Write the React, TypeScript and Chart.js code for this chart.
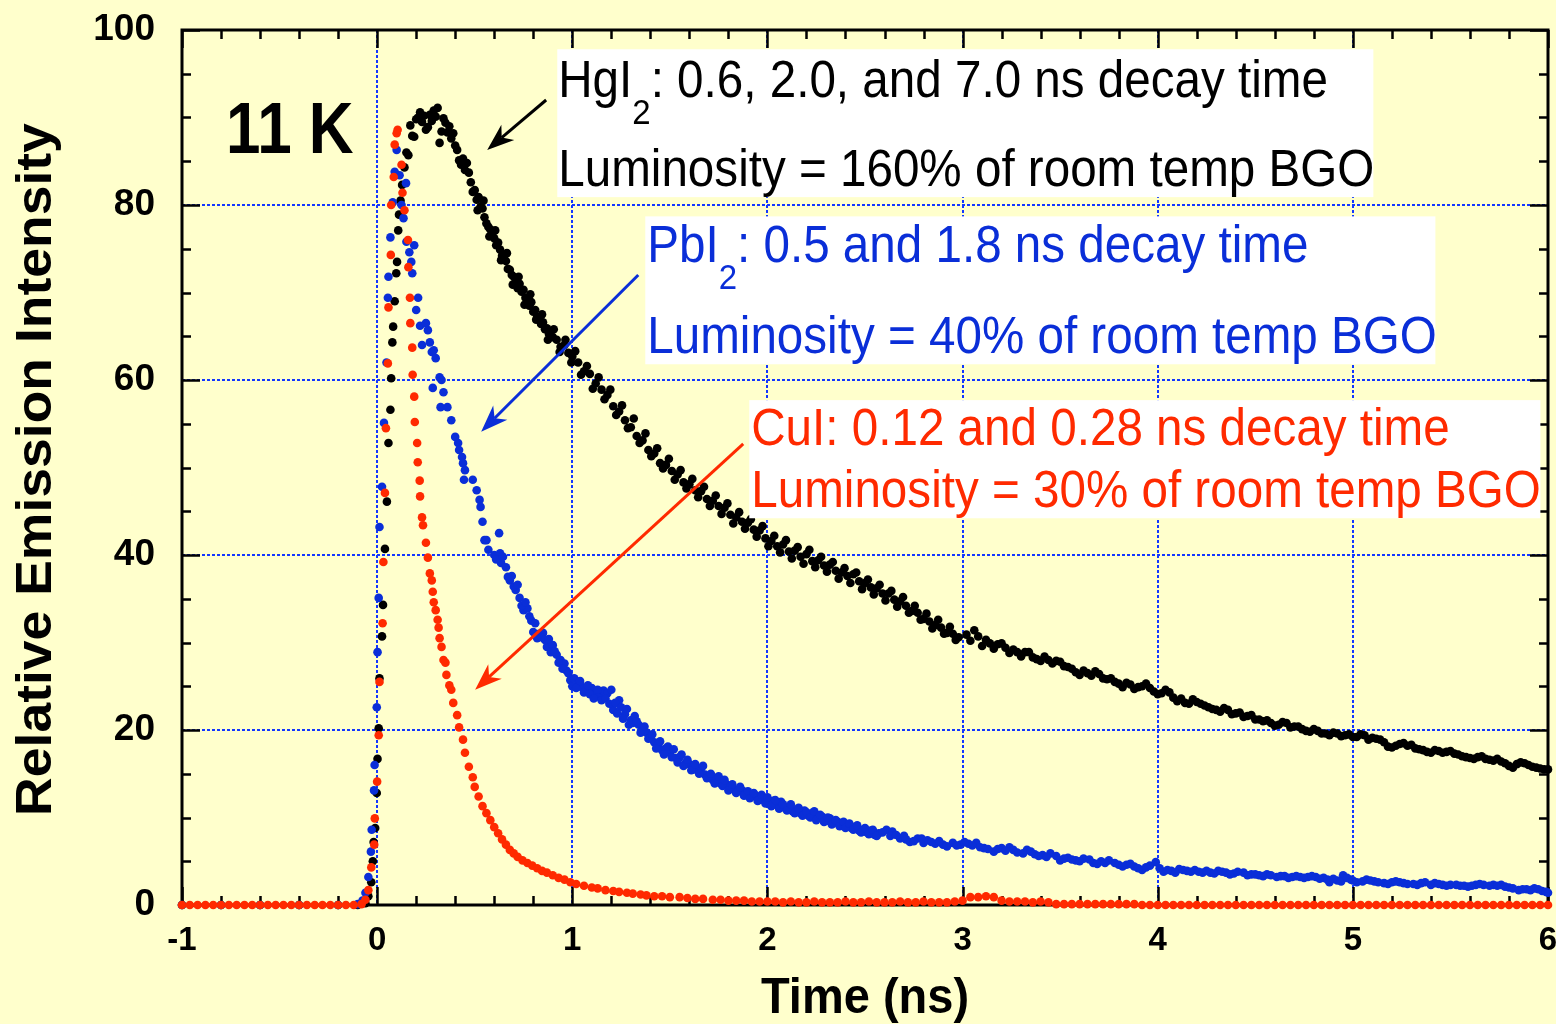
import React, { useEffect, useRef } from 'react';
import { Chart, registerables } from 'chart.js';

Chart.register(...registerables);

const FONT = '"Liberation Sans", Arial, Helvetica, sans-serif';
const BG = '#ffffcc';
const BLACK = '#000000';
const BLUE = '#0a2ed8';
const RED = '#ff2a00';
const GRID_BLUE = '#1236ff';

const xTicks = [-1, 0, 1, 2, 3, 4, 5, 6];
const yTicks = [0, 20, 40, 60, 80, 100];

type P = [number, number];

// CuI (red) : [time ns, relative intensity]
const cuiData: P[] = [
  [-1.0, 0], [-0.96, 0], [-0.92, 0], [-0.88, 0], [-0.84, 0], [-0.8, 0], [-0.76, 0], [-0.72, 0], [-0.68, 0], [-0.64, 0],
  [-0.6, 0], [-0.56, 0], [-0.52, 0], [-0.48, 0], [-0.44, 0], [-0.4, 0], [-0.36, 0], [-0.32, 0], [-0.28, 0], [-0.24, 0],
  [-0.2, 0], [-0.16, 0], [-0.12, 0], [-0.08, 0.1],
  [-0.06, 0.6], [-0.045, 1.7], [-0.03, 4.3], [-0.015, 6.9], [-0.012, 9.9], [0.0, 14.1], [0.008, 19.4], [0.012, 25.5],
  [0.028, 32.2], [0.032, 39.2], [0.04, 47.1], [0.045, 54.5], [0.055, 61.9], [0.058, 68.3], [0.07, 74.3], [0.072, 80.0],
  [0.085, 83.2], [0.09, 86.9], [0.1, 88.2], [0.105, 88.6],
  [0.125, 84.6], [0.13, 81.4], [0.14, 79.4], [0.158, 76.0], [0.16, 72.9], [0.168, 69.4], [0.17, 66.5], [0.18, 63.7],
  [0.182, 60.6], [0.19, 58.1], [0.193, 55.2], [0.205, 52.8], [0.208, 50.6], [0.218, 48.5], [0.22, 46.7], [0.23, 44.3],
  [0.235, 43.4], [0.25, 41.4], [0.26, 39.7], [0.27, 37.9], [0.28, 37.1], [0.285, 35.8], [0.29, 34.6], [0.3, 33.7],
  [0.31, 32.6], [0.315, 31.7], [0.32, 30.5], [0.33, 29.5], [0.34, 28.0], [0.35, 27.7], [0.355, 26.3], [0.37, 25.1],
  [0.38, 24.6], [0.39, 23.1], [0.41, 21.7], [0.42, 20.3], [0.44, 18.9], [0.45, 17.4], [0.47, 15.8], [0.49, 14.6],
  [0.5, 13.5], [0.52, 12.4], [0.54, 11.3], [0.56, 10.5], [0.58, 9.7], [0.6, 8.9], [0.62, 8.2], [0.64, 7.5],
  [0.66, 6.9], [0.68, 6.3], [0.7, 5.9], [0.72, 5.5], [0.745, 5.1], [0.77, 4.8], [0.795, 4.5], [0.82, 4.2],
  [0.845, 3.9], [0.87, 3.7], [0.9, 3.4], [0.93, 3.1], [0.96, 2.9], [0.99, 2.6], [1.02, 2.4], [1.06, 2.2],
  [1.1, 2.0], [1.13, 1.9], [1.17, 1.7], [1.21, 1.6], [1.24, 1.5], [1.28, 1.4], [1.31, 1.3], [1.35, 1.2],
  [1.38, 1.1], [1.42, 1.0], [1.46, 1.0], [1.5, 0.9], [1.55, 0.9], [1.59, 0.8], [1.63, 0.7], [1.67, 0.7],
  [1.72, 0.6], [1.76, 0.6], [1.8, 0.5], [1.84, 0.5], [1.88, 0.5], [1.92, 0.4], [1.96, 0.4], [2.0, 0.4],
  [2.04, 0.4], [2.08, 0.3], [2.12, 0.4], [2.16, 0.3], [2.2, 0.3], [2.24, 0.4], [2.28, 0.3], [2.32, 0.3],
  [2.36, 0.3], [2.4, 0.4], [2.44, 0.3], [2.48, 0.3], [2.52, 0.4], [2.56, 0.3], [2.6, 0.3], [2.64, 0.3],
  [2.68, 0.4], [2.72, 0.3], [2.76, 0.3], [2.8, 0.4], [2.84, 0.3], [2.88, 0.3], [2.92, 0.3], [2.96, 0.4],
  [3.0, 0.5], [3.04, 0.9], [3.08, 0.9], [3.12, 1.0], [3.16, 0.9], [3.2, 0.5], [3.24, 0.4], [3.28, 0.4],
  [3.32, 0.4], [3.36, 0.3], [3.4, 0.4], [3.44, 0.3], [3.48, 0.1], [3.52, 0.1], [3.56, 0.1], [3.6, 0.1],
  [3.64, 0.1], [3.68, 0.1], [3.72, 0.1], [3.76, 0.1], [3.8, 0.1], [3.84, 0.1], [3.88, 0.1], [3.92, 0.0],
  [3.96, 0], [4.0, 0], [4.04, 0], [4.08, 0], [4.12, 0], [4.16, 0], [4.2, 0], [4.24, 0], [4.28, 0], [4.32, 0],
  [4.36, 0], [4.4, 0], [4.44, 0], [4.48, 0], [4.52, 0], [4.56, 0], [4.6, 0], [4.64, 0], [4.68, 0], [4.72, 0],
  [4.76, 0], [4.8, 0], [4.84, 0], [4.88, 0], [4.92, 0], [4.96, 0], [5.0, 0], [5.04, 0], [5.08, 0], [5.12, 0],
  [5.16, 0], [5.2, 0], [5.24, 0], [5.28, 0], [5.32, 0], [5.36, 0], [5.4, 0], [5.44, 0], [5.48, 0], [5.52, 0],
  [5.56, 0], [5.6, 0], [5.64, 0], [5.68, 0], [5.72, 0], [5.76, 0], [5.8, 0], [5.84, 0], [5.88, 0], [5.92, 0],
  [5.96, 0], [6.0, 0],
];

// PbI2 (blue)
const pbi2Data: P[] = [
  [-1.0, 0], [-0.8, 0], [-0.6, 0], [-0.4, 0], [-0.2, 0], [-0.1, 0.1], [-0.075, 0.5],
  [-0.06, 1.4], [-0.045, 3.2], [-0.032, 6.1], [-0.028, 8.6], [-0.016, 13.1], [-0.013, 16.0], [-0.002, 22.6], [0.002, 28.9],
  [0.008, 35.1], [0.012, 43.2], [0.025, 47.8], [0.035, 55.1], [0.048, 62.0], [0.055, 69.4], [0.058, 71.8], [0.068, 76.3],
  [0.08, 80.3], [0.09, 83.8], [0.1, 86.3],
  [0.115, 83.4], [0.125, 80.0], [0.135, 78.5], [0.148, 82.5], [0.15, 75.8], [0.165, 74.6], [0.175, 73.5], [0.18, 72.2],
  [0.19, 75.4], [0.2, 68.0], [0.21, 69.4], [0.22, 66.2], [0.23, 64.0], [0.25, 66.5], [0.26, 65.7], [0.27, 64.3],
  [0.28, 63.2], [0.285, 59.1], [0.29, 63.4], [0.3, 62.5], [0.32, 60.3], [0.325, 56.9], [0.33, 60.0], [0.34, 58.6],
  [0.36, 56.9], [0.38, 55.4], [0.4, 53.5], [0.415, 52.8], [0.42, 52.0], [0.435, 51.2], [0.44, 50.5], [0.445, 48.6],
  [0.45, 49.7], [0.49, 48.6], [0.51, 47.4], [0.525, 46.3], [0.53, 45.5], [0.54, 43.8], [0.55, 41.7], [0.56, 41.7],
  [0.57, 40.6], [0.6, 40.0], [0.625, 42.5], [0.63, 40.2], [0.635, 39.1], [0.66, 38.6], [0.68, 37.1], [0.69, 37.6],
  [0.71, 36.0], [0.73, 35.1], [0.75, 33.7], [0.77, 33.9], [0.79, 32.5], [0.8, 31.2], [0.83, 31.0], [0.85, 31.1],
  [0.87, 29.5], [0.9, 29.7], [0.92, 28.6], [0.94, 28.0], [0.96, 27.6], [0.97, 26.8], [0.99, 25.7], [1.01, 25.9],
  [1.03, 25.3], [1.05, 24.9], [1.07, 24.6], [1.1, 24.8], [1.12, 24.2], [1.14, 23.8], [1.16, 24.5], [1.18, 24.2],
  [1.21, 22.3], [1.24, 23.4], [1.27, 21.8], [1.3, 21.1], [1.32, 21.6], [1.34, 20.6], [1.36, 20.0], [1.38, 19.7],
  [1.4, 19.2], [1.42, 18.6], [1.44, 18.3], [1.46, 17.7], [1.48, 17.9], [1.5, 17.4], [1.53, 16.8], [1.55, 16.9],
  [1.58, 16.2], [1.6, 16.1], [1.62, 15.9], [1.64, 15.4], [1.66, 15.6], [1.68, 14.9], [1.7, 14.6], [1.72, 14.3],
  [1.74, 14.5], [1.76, 13.9], [1.79, 13.8], [1.81, 13.5], [1.83, 13.2], [1.85, 13.0], [1.87, 13.1], [1.89, 12.8],
  [1.92, 12.4], [1.94, 12.5], [1.96, 12.0], [1.98, 12.2], [2.01, 11.7], [2.03, 11.9], [2.05, 11.4], [2.07, 11.8],
  [2.09, 11.1], [2.11, 11.2], [2.13, 10.7], [2.15, 10.9], [2.17, 10.5], [2.19, 10.8], [2.21, 10.2], [2.23, 10.5],
  [2.26, 10.0], [2.28, 10.1], [2.3, 9.6], [2.32, 9.9], [2.34, 9.4], [2.36, 9.5], [2.38, 9.2], [2.41, 9.1],
  [2.43, 8.8], [2.45, 8.9], [2.47, 8.5], [2.49, 8.6], [2.51, 8.3], [2.53, 8.5], [2.55, 8.0], [2.57, 8.2],
  [2.61, 8.6], [2.64, 8.4], [2.68, 7.6], [2.7, 7.9], [2.73, 7.2], [2.77, 7.6], [2.8, 7.1], [2.82, 7.4],
  [2.86, 7.0], [2.9, 6.9], [2.95, 7.1], [2.99, 6.9], [3.03, 7.0], [3.07, 7.1], [3.11, 6.5], [3.16, 6.1],
  [3.2, 6.5], [3.24, 6.6], [3.28, 6.0], [3.33, 6.3], [3.37, 5.8], [3.41, 5.7], [3.45, 5.9], [3.5, 5.1],
  [3.54, 5.4], [3.58, 5.1], [3.62, 5.3], [3.67, 4.8], [3.71, 5.0], [3.75, 5.1], [3.8, 4.6], [3.84, 4.6],
  [3.88, 4.4], [3.92, 4.0], [3.96, 4.5], [3.99, 4.9], [4.03, 3.8], [4.07, 3.9], [4.11, 4.1], [4.15, 3.9],
  [4.19, 4.0], [4.23, 3.7], [4.27, 3.7], [4.31, 3.9], [4.35, 3.7], [4.39, 3.6], [4.44, 3.7], [4.48, 3.5],
  [4.52, 3.4], [4.56, 3.5], [4.61, 3.2], [4.65, 3.3], [4.69, 3.2], [4.73, 3.2], [4.77, 3.2], [4.81, 3.2],
  [4.85, 3.1], [4.88, 2.6], [4.92, 2.8], [4.95, 3.4], [4.99, 2.9], [5.02, 2.6], [5.07, 2.9], [5.11, 2.7],
  [5.16, 2.5], [5.2, 2.6], [5.24, 2.6], [5.28, 2.4], [5.33, 2.3], [5.37, 2.6], [5.42, 2.5], [5.46, 2.3],
  [5.5, 2.3], [5.55, 2.2], [5.59, 2.1], [5.63, 2.3], [5.67, 2.3], [5.72, 2.3], [5.76, 2.3], [5.8, 2.0],
  [5.85, 1.7], [5.89, 1.8], [5.93, 1.9], [5.97, 1.6], [6.0, 1.4],
  // scatter of the noisy band
  [0.61, 39.5], [0.645, 39.8], [0.67, 37.5], [0.7, 36.4], [0.72, 36.6], [0.74, 34.2], [0.76, 34.6], [0.78, 33.0],
  [0.81, 32.2], [0.82, 30.5], [0.84, 30.6], [0.86, 30.3], [0.88, 30.4], [0.89, 28.9], [0.91, 29.0], [0.93, 27.7],
  [0.95, 27.0], [0.98, 26.5], [1.0, 25.0], [1.02, 24.8], [1.04, 25.6], [1.06, 24.3], [1.08, 25.1], [1.09, 24.1],
  [1.11, 23.6], [1.13, 24.6], [1.15, 23.4], [1.17, 23.6], [1.19, 23.0], [1.2, 24.6], [1.22, 23.1], [1.23, 21.9],
  [1.25, 22.6], [1.26, 21.3], [1.28, 22.4], [1.29, 20.6], [1.31, 20.8], [1.33, 21.0], [1.35, 19.7], [1.37, 20.4],
  [1.39, 19.0], [1.41, 19.5], [1.43, 17.9], [1.45, 18.7], [1.47, 17.2], [1.49, 18.1], [1.51, 16.9], [1.52, 17.8],
  [1.54, 16.3], [1.56, 17.2], [1.57, 15.9], [1.59, 16.6], [1.61, 15.4], [1.63, 16.1], [1.65, 15.0], [1.67, 15.9],
  [1.69, 14.5], [1.71, 15.0], [1.73, 13.9], [1.75, 14.7], [1.77, 13.6], [1.78, 14.3], [1.8, 13.1], [1.82, 13.8],
  [1.84, 12.8], [1.86, 13.5], [1.88, 12.5], [1.9, 13.0], [1.91, 12.2], [1.93, 12.8], [1.95, 11.9], [1.97, 12.6],
  [1.99, 11.6], [2.0, 12.3], [2.02, 11.3], [2.04, 12.0], [2.06, 11.0], [2.08, 11.5], [2.1, 10.8], [2.12, 11.5],
  [2.14, 10.5], [2.16, 11.1], [2.18, 10.2], [2.2, 10.6], [2.22, 10.0], [2.24, 10.7], [2.25, 9.7], [2.27, 10.3],
  [2.29, 9.5], [2.31, 10.0], [2.33, 9.2], [2.35, 9.7], [2.37, 9.0], [2.39, 9.5], [2.4, 8.8], [2.42, 9.3],
  [2.44, 8.6], [2.46, 9.1], [2.48, 8.3], [2.5, 8.8], [2.52, 8.1], [2.54, 8.6], [2.56, 7.9], [2.59, 8.3],
  [2.63, 7.9], [2.66, 8.0], [2.71, 7.5], [2.75, 7.3], [2.79, 7.6], [2.84, 7.2], [2.88, 7.3], [2.92, 6.7],
  [2.97, 6.8], [3.01, 7.2], [3.05, 6.8], [3.09, 6.6], [3.13, 6.4], [3.18, 6.4], [3.22, 6.2], [3.26, 6.3],
  [3.31, 5.9], [3.35, 6.1], [3.39, 5.6], [3.43, 5.5], [3.48, 5.6], [3.52, 5.3], [3.56, 5.2], [3.6, 5.0],
  [3.65, 5.2], [3.69, 4.7], [3.73, 4.8], [3.78, 4.8], [3.82, 4.4], [3.86, 4.7], [3.9, 4.2], [3.94, 4.3],
  [4.01, 4.2], [4.05, 4.0], [4.09, 3.7], [4.13, 4.0], [4.17, 3.8], [4.21, 3.8], [4.25, 3.9], [4.29, 3.6],
  [4.33, 3.8], [4.37, 3.5], [4.41, 3.8], [4.46, 3.4], [4.5, 3.5], [4.54, 3.3], [4.58, 3.4], [4.63, 3.3],
  [4.67, 3.1], [4.71, 3.3], [4.75, 3.1], [4.79, 3.3], [4.83, 3.0], [4.87, 2.9], [4.9, 3.0], [4.94, 2.7],
  [4.97, 3.1], [5.0, 2.8], [5.05, 2.7], [5.09, 2.8], [5.13, 2.6], [5.18, 2.4], [5.22, 2.7], [5.26, 2.5],
  [5.31, 2.4], [5.35, 2.5], [5.4, 2.3], [5.44, 2.4], [5.48, 2.2], [5.53, 2.3], [5.57, 2.2], [5.61, 2.2],
  [5.65, 2.4], [5.7, 2.2], [5.74, 2.2], [5.78, 2.1], [5.82, 1.9], [5.87, 1.8], [5.91, 1.7], [5.95, 1.8],
  [5.99, 1.5],
];

// HgI2 (black)
const hgi2Data: P[] = [
  [-1.0, 0], [-0.8, 0], [-0.6, 0], [-0.4, 0], [-0.2, 0], [-0.1, 0], [-0.06, 0.2],
  [-0.045, 1.0], [-0.03, 2.6], [-0.022, 5.0], [-0.018, 7.2], [-0.01, 8.8], [-0.002, 12.8], [0.002, 16.7], [0.008, 20.2],
  [0.012, 25.9], [0.025, 30.7], [0.03, 34.3], [0.04, 40.7], [0.05, 46.1], [0.058, 52.8], [0.068, 56.6], [0.072, 60.2],
  [0.078, 64.3], [0.082, 66.1], [0.09, 69.0], [0.098, 72.2], [0.102, 73.5], [0.108, 77.1], [0.112, 78.9], [0.12, 80.5],
  [0.128, 82.3],
  [0.14, 84.3], [0.15, 86.0], [0.16, 85.7], [0.17, 89.1], [0.18, 87.9], [0.19, 87.8], [0.2, 89.8], [0.21, 90.0],
  [0.22, 90.6], [0.23, 89.5], [0.24, 90.2], [0.25, 88.6], [0.26, 88.9], [0.27, 90.3], [0.28, 89.6], [0.29, 90.8],
  [0.3, 90.1], [0.31, 91.1], [0.32, 87.1], [0.33, 88.4], [0.34, 89.9], [0.35, 89.4], [0.36, 88.3], [0.37, 89.0],
  [0.38, 87.6], [0.39, 88.2], [0.4, 86.8], [0.41, 86.3], [0.42, 85.1], [0.43, 84.6], [0.44, 85.3], [0.45, 84.0],
  [0.46, 84.8], [0.47, 83.7], [0.48, 82.6], [0.49, 81.5], [0.5, 81.7], [0.51, 80.6], [0.52, 80.9], [0.53, 79.8],
  [0.54, 79.6], [0.55, 78.6], [0.56, 77.9], [0.57, 77.5], [0.58, 77.2], [0.59, 76.5], [0.6, 76.2], [0.61, 75.4],
  [0.62, 75.7], [0.63, 74.9], [0.64, 74.2], [0.65, 73.8], [0.66, 73.6], [0.67, 72.7], [0.68, 72.6], [0.69, 72.0],
  [0.7, 71.8], [0.71, 71.2], [0.72, 70.5], [0.73, 71.0], [0.74, 70.1], [0.75, 70.3], [0.76, 69.4], [0.77, 69.2],
  [0.78, 68.5], [0.79, 68.9], [0.8, 67.8], [0.81, 68.0], [0.82, 67.2], [0.83, 67.0], [0.84, 66.4], [0.85, 66.6],
  [0.86, 65.8], [0.87, 65.9], [0.88, 65.3], [0.9, 64.9], [0.92, 64.6], [0.94, 63.8], [0.96, 64.0], [0.98, 63.1],
  [1.0, 62.7], [1.03, 62.0], [1.06, 61.0], [1.09, 60.7], [1.12, 59.6], [1.15, 58.9], [1.18, 58.3], [1.21, 57.0],
  [1.24, 56.4], [1.27, 55.4], [1.3, 54.6], [1.33, 53.6], [1.36, 53.1], [1.39, 52.0], [1.42, 51.6], [1.45, 50.5],
  [1.48, 50.3], [1.51, 49.6], [1.54, 49.2], [1.57, 48.3], [1.6, 48.1], [1.63, 47.4], [1.66, 47.3], [1.69, 46.4],
  [1.72, 46.2], [1.75, 45.6], [1.78, 45.4], [1.81, 44.6], [1.84, 44.3], [1.87, 43.8], [1.9, 43.7], [1.93, 42.9],
  [1.96, 42.8], [1.99, 41.9], [2.02, 41.6], [2.05, 41.0], [2.08, 41.2], [2.11, 40.4], [2.14, 40.5], [2.17, 39.8],
  [2.2, 40.1], [2.23, 39.3], [2.26, 39.4], [2.29, 38.8], [2.32, 38.9], [2.35, 38.2], [2.38, 38.0], [2.41, 37.6],
  [2.44, 37.8], [2.47, 37.0], [2.5, 36.8], [2.53, 36.3], [2.56, 36.2], [2.59, 35.6], [2.62, 35.6], [2.65, 34.9],
  [2.68, 34.7], [2.71, 34.2], [2.74, 33.6], [2.77, 33.4], [2.8, 32.7], [2.83, 32.4], [2.86, 32.0], [2.89, 31.7],
  [2.92, 31.1], [2.95, 31.0], [2.98, 30.6],
  [3.02, 30.9], [3.06, 31.4], [3.1, 29.6], [3.14, 29.9], [3.18, 29.8], [3.22, 29.4], [3.26, 29.2], [3.3, 28.4],
  [3.34, 28.9], [3.38, 28.1], [3.42, 28.4], [3.46, 27.6], [3.5, 27.8], [3.54, 27.2], [3.58, 26.6], [3.62, 26.8],
  [3.66, 26.2], [3.7, 26.4], [3.74, 25.8], [3.78, 25.5], [3.82, 24.9], [3.86, 25.2], [3.9, 24.9], [3.94, 25.3],
  [3.98, 24.4], [4.02, 24.2], [4.06, 24.3], [4.1, 23.3], [4.14, 23.1], [4.18, 23.5], [4.22, 23.0], [4.26, 22.6],
  [4.3, 22.3], [4.34, 22.5], [4.38, 21.8], [4.42, 22.0], [4.46, 21.6], [4.5, 21.2], [4.54, 21.0], [4.58, 20.8],
  [4.62, 20.6], [4.66, 20.8], [4.7, 20.4], [4.74, 20.1], [4.78, 19.8], [4.82, 19.9], [4.86, 19.6], [4.9, 19.7],
  [4.94, 19.3], [4.98, 19.5], [5.02, 19.2], [5.06, 19.4], [5.1, 19.1], [5.14, 18.9], [5.18, 18.1], [5.22, 18.2],
  [5.26, 18.5], [5.3, 18.3], [5.34, 17.8], [5.38, 17.5], [5.42, 17.7], [5.46, 17.4], [5.5, 17.6], [5.54, 17.2],
  [5.58, 16.9], [5.62, 16.7], [5.66, 17.0], [5.7, 16.6], [5.74, 16.7], [5.78, 16.2], [5.82, 15.7], [5.86, 16.3],
  [5.9, 16.0], [5.94, 15.7], [5.98, 15.5], [6.0, 15.5],
  // scatter of the noisy band
  [0.515, 79.4], [0.545, 80.5], [0.575, 76.4], [0.605, 77.1], [0.635, 73.7], [0.665, 74.5], [0.695, 70.9], [0.725, 71.8],
  [0.755, 68.6], [0.785, 69.8], [0.815, 66.9], [0.845, 67.5], [0.875, 64.6], [0.905, 65.8], [0.935, 63.2], [0.965, 64.6],
  [0.995, 62.0], [1.015, 63.3], [1.045, 60.6], [1.075, 61.6], [1.105, 59.0], [1.135, 60.3], [1.165, 57.8], [1.195, 58.9],
  [1.225, 56.0], [1.255, 57.1], [1.285, 54.5], [1.315, 55.6], [1.345, 52.8], [1.375, 53.9], [1.405, 51.3], [1.435, 52.2],
  [1.465, 49.9], [1.495, 51.0], [1.525, 48.6], [1.555, 49.7], [1.585, 47.6], [1.615, 48.7], [1.645, 46.6], [1.675, 47.8],
  [1.705, 45.6], [1.735, 46.8], [1.765, 44.7], [1.795, 45.9], [1.825, 43.6], [1.855, 44.9], [1.885, 43.0], [1.915, 44.1],
  [1.945, 42.1], [1.975, 43.3], [2.005, 41.0], [2.035, 42.2], [2.065, 40.3], [2.095, 41.7], [2.125, 39.6], [2.155, 40.9],
  [2.185, 39.0], [2.215, 40.6], [2.245, 38.6], [2.275, 39.8], [2.305, 38.1], [2.335, 39.2], [2.365, 37.3], [2.395, 38.5],
  [2.425, 36.8], [2.455, 38.0], [2.485, 36.1], [2.515, 37.2], [2.545, 35.5], [2.575, 36.6], [2.605, 34.8], [2.635, 35.9],
  [2.665, 34.1], [2.695, 35.2], [2.725, 33.4], [2.755, 34.2], [2.785, 32.6], [2.815, 33.3], [2.845, 31.6], [2.875, 32.6],
  [2.905, 31.0], [2.935, 31.8], [2.965, 30.3],
  [3.04, 30.2], [3.08, 30.7], [3.12, 30.3], [3.16, 29.3], [3.2, 29.9], [3.24, 28.8], [3.28, 28.9], [3.32, 28.9],
  [3.36, 28.3], [3.4, 27.9], [3.44, 28.0], [3.48, 27.9], [3.52, 27.3], [3.56, 27.0], [3.6, 26.3], [3.64, 26.5],
  [3.68, 26.7], [3.72, 25.9], [3.76, 25.9], [3.8, 25.3], [3.84, 25.4], [3.88, 24.7], [3.92, 25.0], [3.96, 24.8],
  [4.0, 24.1], [4.04, 24.6], [4.08, 23.7], [4.12, 23.6], [4.16, 23.0], [4.2, 23.2], [4.24, 22.8], [4.28, 22.4],
  [4.32, 22.1], [4.36, 22.3], [4.4, 21.9], [4.44, 21.5], [4.48, 21.7], [4.52, 21.2], [4.56, 21.1], [4.6, 20.5],
  [4.64, 20.9], [4.68, 20.3], [4.72, 20.4], [4.76, 19.9], [4.8, 20.1], [4.84, 19.6], [4.88, 19.4], [4.92, 19.6],
  [4.96, 19.4], [5.0, 19.2], [5.04, 19.5], [5.08, 18.9], [5.12, 19.0], [5.16, 18.6], [5.2, 18.0], [5.24, 18.4],
  [5.28, 18.2], [5.32, 17.9], [5.36, 17.7], [5.4, 17.4], [5.44, 17.6], [5.48, 17.5], [5.52, 17.3], [5.56, 17.0],
  [5.6, 16.8], [5.64, 16.9], [5.68, 16.7], [5.72, 16.5], [5.76, 16.4], [5.8, 15.9], [5.84, 16.1], [5.88, 16.2],
  [5.92, 15.8], [5.96, 15.6],
];

// Annotation layout (data units)
type Part = { t: string; sub?: boolean };
type Note = { x: number; y: number; parts: Part[]; color: string };
const noteBoxes = [
  { x0: 0.923, x1: 5.105, y0: 97.8, y1: 80.9 },
  { x0: 1.374, x1: 5.423, y0: 78.7, y1: 61.8 },
  { x0: 1.907, x1: 5.961, y0: 57.7, y1: 44.2 },
];
const notes: Note[] = [
  { x: 0.928, y: 92.3, color: BLACK, parts: [{ t: 'HgI' }, { t: '2', sub: true }, { t: ': 0.6, 2.0, and 7.0 ns decay time' }] },
  { x: 0.928, y: 82.2, color: BLACK, parts: [{ t: 'Luminosity = 160% of room temp BGO' }] },
  { x: 1.384, y: 73.5, color: BLUE, parts: [{ t: 'PbI' }, { t: '2', sub: true }, { t: ': 0.5 and 1.8 ns decay time' }] },
  { x: 1.384, y: 63.1, color: BLUE, parts: [{ t: 'Luminosity = 40% of room temp BGO' }] },
  { x: 1.917, y: 52.6, color: RED, parts: [{ t: 'CuI: 0.12 and 0.28 ns decay time' }] },
  { x: 1.917, y: 45.5, color: RED, parts: [{ t: 'Luminosity = 30% of room temp BGO' }] },
];
const arrows = [
  { from: [0.866, 92.0], to: [0.564, 86.3], color: BLACK },
  { from: [1.338, 72.0], to: [0.533, 54.1], color: BLUE },
  { from: [1.876, 52.7], to: [0.502, 24.6], color: RED },
];
const tempLabel = { x: -0.774, y: 85.9, text: '11 K' };

function stretchedText(ctx: CanvasRenderingContext2D, text: string, x: number, y: number, sy: number) {
  ctx.save();
  ctx.translate(x, y);
  ctx.scale(1, sy);
  ctx.fillText(text, 0, 0);
  ctx.restore();
}

const decorPlugin = {
  id: 'decor',
  beforeDraw(chart: any) {
    const { ctx, width, height } = chart;
    ctx.save();
    ctx.fillStyle = BG;
    ctx.fillRect(0, 0, width, height);
    ctx.restore();
  },
  beforeDatasetsDraw(chart: any) {
    const { ctx, chartArea: a, scales } = chart;
    const sx = scales.x;
    const sy = scales.y;
    ctx.save();
    ctx.strokeStyle = BLACK;
    ctx.lineWidth = 2.5;
    ctx.beginPath();
    for (let i = 0; i <= 35; i++) {
      const v = -1 + i * 0.2;
      const px = Math.round(sx.getPixelForValue(v)) + 0.5;
      const len = i % 5 === 0 ? 18 : 9;
      ctx.moveTo(px, a.bottom);
      ctx.lineTo(px, a.bottom - len);
      ctx.moveTo(px, a.top);
      ctx.lineTo(px, a.top + len);
    }
    for (let i = 0; i <= 20; i++) {
      const v = i * 5;
      const py = Math.round(sy.getPixelForValue(v)) + 0.5;
      const len = i % 4 === 0 ? 18 : 9;
      ctx.moveTo(a.left, py);
      ctx.lineTo(a.left + len, py);
      ctx.moveTo(a.right, py);
      ctx.lineTo(a.right - len, py);
    }
    ctx.stroke();
    ctx.lineWidth = 3;
    ctx.strokeRect(a.left, a.top, a.right - a.left, a.bottom - a.top);
    ctx.restore();
  },
  afterDatasetsDraw(chart: any) {
    const { ctx, chartArea: a, scales } = chart;
    const sx = scales.x;
    const sy = scales.y;
    const X = (v: number) => sx.getPixelForValue(v);
    const Y = (v: number) => sy.getPixelForValue(v);
    ctx.save();
    ctx.fillStyle = '#ffffff';
    noteBoxes.forEach((b) => {
      ctx.fillRect(X(b.x0), Y(b.y0), X(b.x1) - X(b.x0), Y(b.y1) - Y(b.y0));
    });
    ctx.textBaseline = 'alphabetic';
    ctx.textAlign = 'left';
    const mainFont = `47.6px ${FONT}`;
    const subFont = `33px ${FONT}`;
    notes.forEach((n) => {
      let cx = X(n.x);
      const by = Y(n.y);
      ctx.fillStyle = n.color;
      n.parts.forEach((p) => {
        ctx.font = p.sub ? subFont : mainFont;
        stretchedText(ctx, p.t, cx, by + (p.sub ? 27 : 0), 1.07);
        cx += ctx.measureText(p.t).width;
      });
    });
    arrows.forEach((ar) => {
      const x0 = X(ar.from[0]), y0 = Y(ar.from[1]);
      const x1 = X(ar.to[0]), y1 = Y(ar.to[1]);
      const dx = x1 - x0, dy = y1 - y0;
      const len = Math.hypot(dx, dy);
      const ux = dx / len, uy = dy / len;
      const nx = -uy, ny = ux;
      const L = 27, W = 10, N = 19;
      ctx.strokeStyle = ar.color;
      ctx.fillStyle = ar.color;
      ctx.lineWidth = 3;
      ctx.beginPath();
      ctx.moveTo(x0, y0);
      ctx.lineTo(x1 - ux * N, y1 - uy * N);
      ctx.stroke();
      ctx.beginPath();
      ctx.moveTo(x1, y1);
      ctx.lineTo(x1 - ux * L + nx * W, y1 - uy * L + ny * W);
      ctx.lineTo(x1 - ux * N, y1 - uy * N);
      ctx.lineTo(x1 - ux * L - nx * W, y1 - uy * L - ny * W);
      ctx.closePath();
      ctx.fill();
    });
    ctx.fillStyle = BLACK;
    ctx.font = `bold 62px ${FONT}`;
    stretchedText(ctx, tempLabel.text, X(tempLabel.x), Y(tempLabel.y), 1.18);
    ctx.font = `bold 47px ${FONT}`;
    ctx.textAlign = 'center';
    stretchedText(ctx, 'Time (ns)', (a.left + a.right) / 2, a.bottom + 108, 1.07);
    ctx.font = `bold 50px ${FONT}`;
    ctx.save();
    ctx.translate(51, (a.top + a.bottom) / 2 + 2);
    ctx.scale(1, 1.07);
    ctx.rotate(-Math.PI / 2);
    ctx.fillText('Relative Emission Intensity', 0, 0);
    ctx.restore();
    ctx.restore();
  },
};

export default function App() {
  const ref = useRef<HTMLCanvasElement>(null);
  useEffect(() => {
    document.body.style.margin = '0';
    const canvas = ref.current;
    if (!canvas) return;
    const mk = (data: P[], color: string, label: string) => ({
      label,
      data: data.map(([x, y]) => ({ x, y })),
      pointRadius: 4.3,
      pointBorderWidth: 0,
      pointBackgroundColor: color,
      backgroundColor: color,
      borderColor: color,
      showLine: false,
      clip: false as any,
    });
    const chart = new Chart(canvas, {
      type: 'scatter',
      data: {
        datasets: [
          mk(cuiData, RED, 'CuI'),
          mk(pbi2Data, BLUE, 'PbI2'),
          mk(hgi2Data, BLACK, 'HgI2'),
        ],
      },
      options: {
        responsive: false,
        animation: false,
        devicePixelRatio: 1,
        events: [],
        layout: { autoPadding: false, padding: { left: 0, right: 8, top: 30, bottom: 0 } },
        plugins: { legend: { display: false }, tooltip: { enabled: false }, title: { display: false } },
        scales: {
          x: {
            type: 'linear',
            min: -1,
            max: 6,
            afterBuildTicks: (s: any) => { s.ticks = xTicks.map((v) => ({ value: v })); },
            afterFit: (s: any) => {
              s.height = 119;
              s.paddingLeft = 0; s.paddingRight = 0; s.paddingTop = 0; s.paddingBottom = 0;
            },
            ticks: { color: BLACK, padding: 16, font: { family: FONT, size: 33, weight: 'bold' }, maxRotation: 0 },
            grid: { color: GRID_BLUE, lineWidth: 2, drawTicks: false },
            border: { display: false, dash: [3, 2] },
          },
          y: {
            type: 'linear',
            min: 0,
            max: 100,
            afterBuildTicks: (s: any) => { s.ticks = yTicks.map((v) => ({ value: v })); },
            afterFit: (s: any) => {
              s.width = 182;
              s.paddingLeft = 0; s.paddingRight = 0; s.paddingTop = 0; s.paddingBottom = 0;
            },
            ticks: { color: BLACK, padding: 27, font: { family: FONT, size: 37, weight: 'bold' } },
            grid: { color: GRID_BLUE, lineWidth: 2, drawTicks: false },
            border: { display: false, dash: [3, 2] },
          },
        },
      },
      plugins: [decorPlugin],
    } as any);
    return () => chart.destroy();
  }, []);
  return (
    <canvas
      ref={ref}
      width={1556}
      height={1024}
      style={{ display: 'block', width: 1556, height: 1024 }}
    />
  );
}
